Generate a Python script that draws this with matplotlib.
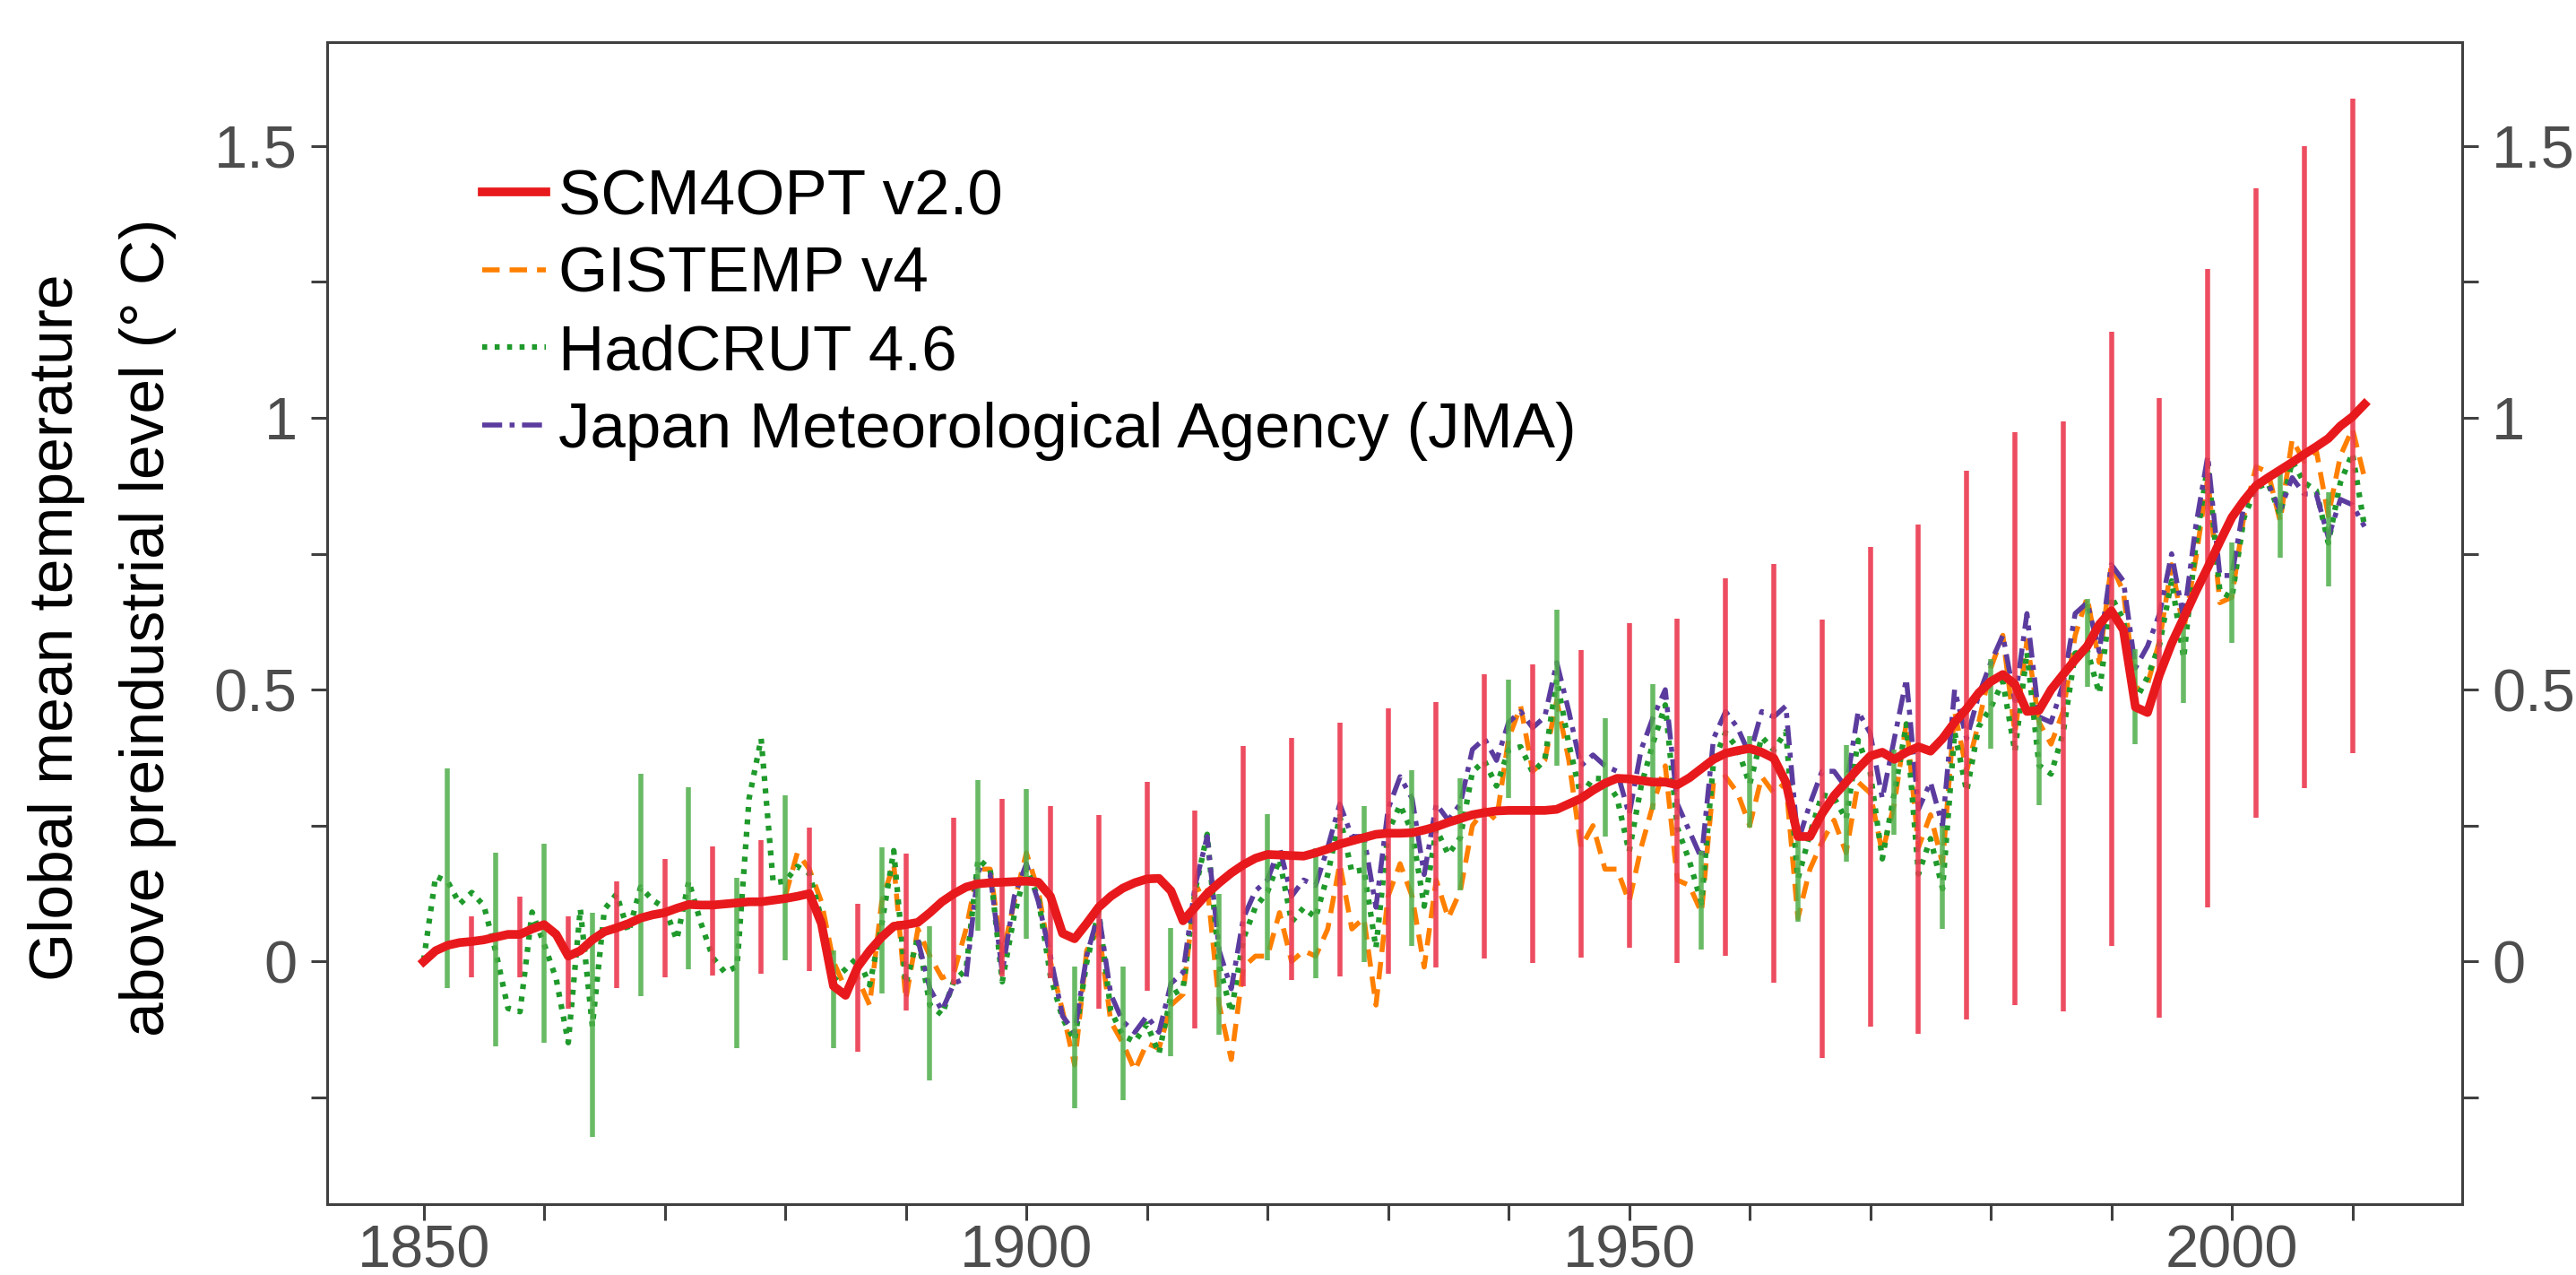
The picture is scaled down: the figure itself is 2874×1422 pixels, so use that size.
import numpy as np
import matplotlib.pyplot as plt
from matplotlib.ticker import MultipleLocator, FuncFormatter

plt.rcParams['font.family'] = ['Liberation Sans', 'DejaVu Sans']
plt.rcParams['lines.scale_dashes'] = False

# annual series, 1850-2011
years = np.arange(1850, 2012)
scm4opt = [
    0.000, 0.020, 0.030, 0.035, 0.037, 0.040, 0.045, 0.050, 0.050, 0.060,
    0.068, 0.050, 0.010, 0.020, 0.040, 0.055, 0.062, 0.070, 0.080, 0.086,
    0.090, 0.098, 0.105, 0.104, 0.104, 0.106, 0.108, 0.110, 0.110, 0.113,
    0.116, 0.120, 0.125, 0.070, -0.045, -0.062, -0.010, 0.020, 0.045, 0.065,
    0.068, 0.072, 0.090, 0.110, 0.125, 0.137, 0.143, 0.145, 0.146, 0.147,
    0.148, 0.146, 0.120, 0.052, 0.042, 0.070, 0.100, 0.120, 0.135, 0.145,
    0.152, 0.153, 0.130, 0.075, 0.100, 0.125, 0.145, 0.163, 0.178, 0.190,
    0.197, 0.196, 0.195, 0.194, 0.200, 0.207, 0.216, 0.222, 0.228, 0.234,
    0.236, 0.236, 0.237, 0.242, 0.248, 0.256, 0.263, 0.270, 0.274, 0.277,
    0.278, 0.278, 0.278, 0.278, 0.280, 0.290, 0.300, 0.315, 0.328, 0.337,
    0.336, 0.333, 0.330, 0.330, 0.325, 0.338, 0.355, 0.372, 0.383, 0.388,
    0.392, 0.385, 0.374, 0.330, 0.230, 0.230, 0.272, 0.305, 0.330, 0.355,
    0.378, 0.385, 0.372, 0.385, 0.395, 0.387, 0.410, 0.440, 0.465, 0.494,
    0.515, 0.528, 0.510, 0.460, 0.462, 0.500, 0.528, 0.555, 0.580, 0.620,
    0.645, 0.610, 0.468, 0.458, 0.528, 0.585, 0.632, 0.680, 0.725, 0.772,
    0.817, 0.848, 0.875, 0.890, 0.904, 0.918, 0.933, 0.947, 0.962, 0.985,
    1.002, 1.025,
]
hadcrut = [
    0.002, 0.157, 0.147, 0.106, 0.127, 0.103, 0.017, -0.086, -0.092, 0.091,
    0.032, -0.032, -0.149, 0.097, -0.119, 0.096, 0.124, 0.054, 0.137, 0.113,
    0.099, 0.040, 0.148, 0.071, 0.007, -0.020, -0.009, 0.300, 0.410, 0.145,
    0.148, 0.175, 0.162, 0.079, -0.034, -0.014, 0.008, -0.043, 0.068, 0.204,
    -0.041, 0.045, -0.080, -0.098, -0.035, -0.015, 0.189, 0.169, -0.037, 0.086,
    0.172, 0.116, -0.027, -0.104, -0.145, -0.002, 0.092, -0.090, -0.136, -0.147,
    -0.115, -0.169, -0.062, -0.049, 0.131, 0.234, -0.008, -0.093, 0.042, 0.100,
    0.128, 0.188, 0.073, 0.099, 0.081, 0.160, 0.267, 0.165, 0.169, 0.025,
    0.238, 0.288, 0.238, 0.102, 0.244, 0.197, 0.228, 0.349, 0.369, 0.323,
    0.389, 0.395, 0.348, 0.371, 0.519, 0.400, 0.304, 0.337, 0.336, 0.301,
    0.202, 0.323, 0.403, 0.472, 0.246, 0.185, 0.108, 0.368, 0.421, 0.392,
    0.326, 0.413, 0.389, 0.423, 0.152, 0.235, 0.307, 0.301, 0.262, 0.407,
    0.348, 0.189, 0.310, 0.437, 0.161, 0.226, 0.134, 0.422, 0.313, 0.432,
    0.467, 0.515, 0.386, 0.569, 0.361, 0.345, 0.420, 0.567, 0.573, 0.493,
    0.671, 0.629, 0.480, 0.523, 0.583, 0.700, 0.558, 0.765, 0.914, 0.681,
    0.669, 0.816, 0.871, 0.880, 0.822, 0.920, 0.881, 0.866, 0.770, 0.881,
    0.935, 0.800,
]

# GISTEMP from 1880
gis_years = np.arange(1880, 2012)
gistemp = [
    0.12, 0.20, 0.17, 0.11, 0.00, -0.05, -0.03, -0.08, 0.11, 0.18,
    -0.07, 0.06, 0.01, -0.03, -0.02, 0.06, 0.17, 0.17, 0.01, 0.11,
    0.20, 0.13, 0.00, -0.09, -0.19, 0.02, 0.06, -0.11, -0.15, -0.20,
    -0.15, -0.16, -0.08, -0.06, 0.13, 0.14, -0.08, -0.18, -0.01, 0.01,
    0.01, 0.09, 0.00, 0.02, 0.01, 0.06, 0.18, 0.06, 0.08, -0.08,
    0.12, 0.18, 0.12, -0.01, 0.15, 0.08, 0.13, 0.25, 0.28, 0.26,
    0.41, 0.47, 0.35, 0.37, 0.48, 0.37, 0.21, 0.25, 0.17, 0.17,
    0.11, 0.21, 0.29, 0.36, 0.15, 0.14, 0.09, 0.33, 0.34, 0.31,
    0.25, 0.34, 0.31, 0.33, 0.08, 0.17, 0.22, 0.26, 0.20, 0.33,
    0.31, 0.20, 0.29, 0.44, 0.21, 0.27, 0.18, 0.46, 0.35, 0.44,
    0.54, 0.60, 0.42, 0.59, 0.44, 0.40, 0.46, 0.60, 0.67, 0.55,
    0.73, 0.68, 0.50, 0.51, 0.59, 0.73, 0.61, 0.74, 0.89, 0.66,
    0.67, 0.82, 0.91, 0.90, 0.81, 0.96, 0.92, 0.94, 0.82, 0.93,
    0.98, 0.89,
]

# JMA from 1891
jma_years = np.arange(1891, 2012)
jma = [
    0.04, -0.05, -0.09, -0.04, -0.03, 0.17, 0.16, -0.02, 0.12,
    0.18, 0.11, 0.01, -0.10, -0.13, 0.01, 0.09, -0.06, -0.11, -0.13,
    -0.10, -0.13, -0.04, -0.02, 0.14, 0.23, 0.02, -0.05, 0.08, 0.13,
    0.15, 0.21, 0.12, 0.15, 0.14, 0.21, 0.29, 0.23, 0.23, 0.10,
    0.28, 0.34, 0.30, 0.16, 0.29, 0.26, 0.29, 0.39, 0.41, 0.37,
    0.44, 0.46, 0.43, 0.45, 0.55, 0.46, 0.36, 0.38, 0.36, 0.35,
    0.27, 0.39, 0.45, 0.50, 0.29, 0.24, 0.19, 0.41, 0.46, 0.43,
    0.38, 0.46, 0.45, 0.47, 0.22, 0.29, 0.35, 0.35, 0.32, 0.46,
    0.42, 0.30, 0.41, 0.52, 0.28, 0.33, 0.25, 0.50, 0.41, 0.49,
    0.55, 0.60, 0.48, 0.64, 0.45, 0.44, 0.51, 0.64, 0.66, 0.57,
    0.73, 0.70, 0.54, 0.58, 0.64, 0.75, 0.63, 0.80, 0.93, 0.71,
    0.71, 0.84, 0.88, 0.88, 0.83, 0.89, 0.86, 0.86, 0.78, 0.85,
    0.84, 0.80,
]

# SCM4OPT uncertainty range, every 4 years
scm_bar_years = np.arange(1854, 2011, 4)
scm_hi = [
    0.084, 0.119, 0.084, 0.148, 0.189, 0.211, 0.223, 0.247, 0.106, 0.198,
    0.264, 0.299, 0.286, 0.270, 0.330, 0.278, 0.396, 0.411, 0.440, 0.466,
    0.477, 0.529, 0.547, 0.573, 0.622, 0.630, 0.705, 0.731, 0.629, 0.762,
    0.803, 0.902, 0.974, 0.994, 1.159, 1.037, 1.274, 1.422, 1.500, 1.587,
]
scm_lo = [
    -0.029, -0.029, -0.086, -0.048, -0.029, -0.026, -0.023, -0.017, -0.165, -0.090,
    -0.042, -0.027, -0.031, -0.086, -0.053, -0.123, -0.045, -0.034, -0.027, -0.022,
    -0.010, 0.006, -0.003, 0.007, 0.026, -0.002, 0.011, -0.039, -0.178, -0.120,
    -0.133, -0.106, -0.080, -0.091, 0.029, -0.103, 0.100, 0.265, 0.319, 0.383,
]

# HadCRUT uncertainty range, every 4 years
had_bar_years = np.arange(1852, 2009, 4)
had_hi = [
    0.355, 0.201, 0.217, 0.090, 0.346, 0.321, 0.154, 0.305, 0.020, 0.210,
    0.065, 0.334, 0.318, -0.009, -0.009, 0.062, 0.124, 0.271, 0.208, 0.286,
    0.352, 0.337, 0.518, 0.647, 0.447, 0.510, 0.204, 0.415, 0.230, 0.398,
    0.390, 0.250, 0.556, 0.450, 0.667, 0.575, 0.621, 0.770, 0.909, 0.863,
]
had_lo = [
    -0.048, -0.156, -0.150, -0.323, -0.064, -0.014, -0.159, 0.002, -0.160, -0.058,
    -0.219, 0.056, 0.042, -0.270, -0.255, -0.174, -0.134, 0.002, -0.031, -0.001,
    0.029, 0.131, 0.301, 0.360, 0.230, 0.280, 0.022, 0.246, 0.073, 0.183,
    0.234, 0.060, 0.392, 0.288, 0.505, 0.400, 0.476, 0.586, 0.742, 0.690,
]

fig = plt.figure(figsize=(28.74, 14.22), dpi=100)
ax = fig.add_axes([0.127, 0.0556, 0.8288, 0.9114])

ax.plot(gis_years, gistemp, color='#ff7f00', lw=4, dashes=(14, 8),
        label='GISTEMP v4', zorder=2)
ax.plot(years, hadcrut, color='#1f9a2b', lw=4.5, dashes=(4, 6),
        label='HadCRUT 4.6', zorder=2)
ax.plot(jma_years, jma, color='#5b3c9e', lw=4, dashes=(16, 6, 4, 6),
        label='Japan Meteorological Agency (JMA)', zorder=2)

ax.vlines(had_bar_years, had_lo, had_hi, color='#4fae4a', lw=4, alpha=0.85, zorder=3)
ax.vlines(scm_bar_years, scm_lo, scm_hi, color='#ec3a50', lw=4, alpha=0.9, zorder=3)
ax.plot(years, scm4opt, color='#e8191c', lw=7, label='SCM4OPT v2.0', zorder=4,
        solid_joinstyle='round')

ax.set_xlim(1842.0, 2019.1)
ax.set_ylim(-0.446, 1.691)

ax.xaxis.set_major_locator(MultipleLocator(10))
ax.yaxis.set_major_locator(MultipleLocator(0.25))
ax.xaxis.set_major_formatter(FuncFormatter(lambda v, p: f'{int(round(v))}' if round(v) % 50 == 0 else ''))
ax.yaxis.set_major_formatter(FuncFormatter(lambda v, p: f'{v:g}' if abs(v * 2 - round(v * 2)) < 1e-6 else ''))

ax.tick_params(axis='both', direction='out', length=13, width=2.2, color='#404040',
               labelsize=48, labelcolor='#4d4d4d')
ax.tick_params(axis='x', pad=3)
ax.tick_params(axis='y', right=True, labelright=True, pad=11)
for s in ax.spines.values():
    s.set_color('#404040')
    s.set_linewidth(2.2)

h, l = ax.get_legend_handles_labels()
order = [3, 0, 1, 2]
ax.legend([h[i] for i in order], [l[i] for i in order], loc='upper left',
          bbox_to_anchor=(0.0726, 0.891), frameon=False, fontsize=51,
          handlelength=1.0, handletextpad=0.2, labelspacing=0.29,
          borderpad=0, borderaxespad=0)

fig.text(0.0395, 0.5077, 'Global mean temperature\nabove preindustrial level (° C)',
         rotation=90, ha='center', va='center', multialignment='center',
         fontsize=50, linespacing=1.76)

fig.savefig('out.png', dpi=100)
